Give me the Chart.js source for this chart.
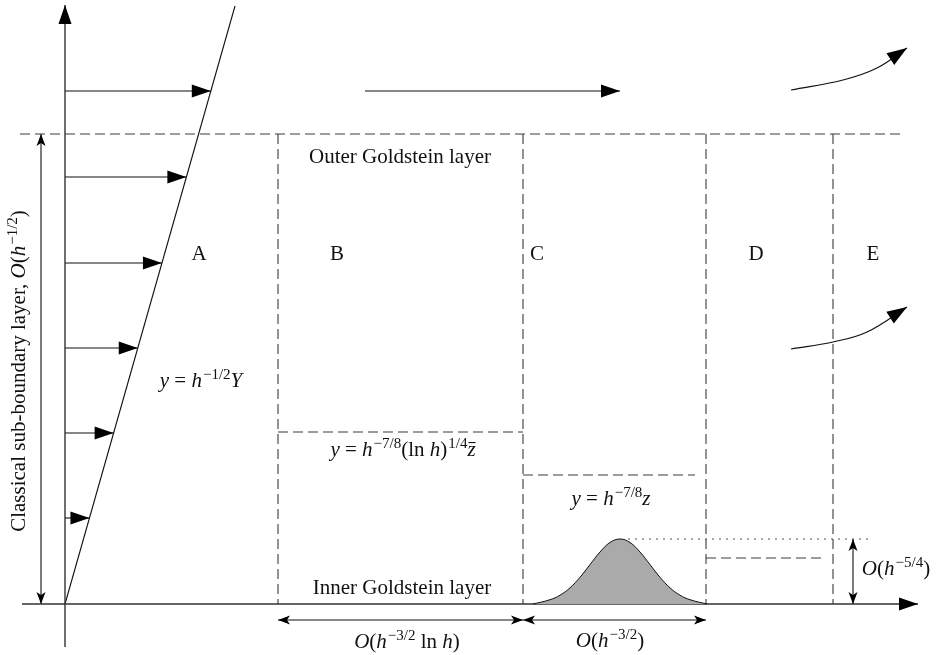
<!DOCTYPE html>
<html><head><meta charset="utf-8">
<script src="https://cdn.jsdelivr.net/npm/chart.js@4.4.0/dist/chart.umd.min.js"></script>
<style>html,body{margin:0;padding:0;background:#fff}#wrap{width:936px;height:655px}</style>
</head><body><div id="wrap"><canvas id="c" width="936" height="655"></canvas></div>
<script>
// Diagram coordinates: x along the wall (to the right), y normal to the wall (up).
const xRange = [-65, 871];
const yRange = [-51, 604];

const wallAxis = [[0, -43], [0, 599]];
const streamAxis = [[-43, 0], [853, 0]];
const shearLine = [[0, 0], [170, 598]];
const profileHeights = [513, 427, 341, 256, 171, 86];
const outerEdgeY = 470;
const outerEdgeX = [-45, 840];
const regionBounds = [213, 458, 641, 768];
const innerB = [[213, 172], [458, 172]];
const innerC = [[458, 129], [630, 129]];
const innerD = [[641, 46], [760, 46]];
const humpTopLine = [[563, 65], [803, 65]];
const humpX = [468, 485, 495, 505, 515, 525, 535, 545, 555, 565, 575, 585, 595, 605, 615, 625, 642];
const humpY = [0, 4.3, 8.8, 16.2, 26.7, 39.4, 52, 61.5, 65, 61.5, 52, 39.4, 26.7, 16.2, 8.8, 4.3, 0];
const freeArrow = [[300, 513], [555, 513]];
const upperCurve = [[726, 514], [778, 524], [812, 536], [842, 556]];
const lowerCurve = [[726, 255], [768, 262], [802, 272], [842, 297]];
const dimLeft = [[-24, 0], [-24, 470]];
const dimBottom1 = [[213, -16], [458, -16]];
const dimBottom2 = [[458, -16], [641, -16]];
const dimHump = [[788, 0], [788, 65]];

// Labels: segments [style, text]; r = roman, i = italic, s = superscript, zb = z with bar
const regionLetters = ['A', 'B', 'C', 'D', 'E'];
const regionLetterX = [134, 272, 472, 691, 808];
const regionLetterY = 344;
const labels = [
  { x: 335, y: 441, seg: [['r', 'Outer Goldstein layer']] },
  { x: 337, y: 10, seg: [['r', 'Inner Goldstein layer']] },
  { x: 136, y: 217, seg: [['i', 'y'], ['r', ' = '], ['i', 'h'], ['s', '\u22121/2'], ['i', 'Y']] },
  { x: 338, y: 148, seg: [['i', 'y'], ['r', ' = '], ['i', 'h'], ['s', '\u22127/8'], ['r', '(ln '], ['i', 'h'], ['r', ')'], ['s', '1/4'], ['zb', 'z']] },
  { x: 546, y: 99, seg: [['i', 'y'], ['r', ' = '], ['i', 'h'], ['s', '\u22127/8'], ['i', 'z']] },
  { x: 831, y: 29, seg: [['i', 'O'], ['r', '('], ['i', 'h'], ['s', '\u22125/4'], ['r', ')']] },
  { x: 342, y: -44, seg: [['i', 'O'], ['r', '('], ['i', 'h'], ['s', '\u22123/2'], ['r', ' ln '], ['i', 'h'], ['r', ')']] },
  { x: 545, y: -43, seg: [['i', 'O'], ['r', '('], ['i', 'h'], ['s', '\u22123/2'], ['r', ')']] },
  { x: -40, y: 233, rot: true, seg: [['r', 'Classical sub-boundary layer, '], ['i', 'O'], ['r', '('], ['i', 'h'], ['s', '\u22121/2'], ['r', ')']] }
];

const pts = a => a.map(p => ({ x: p[0], y: p[1] }));
const BIG = { len: 19, half: 6.5, notch: 0 };
const CURV = { len: 20, half: 7, notch: 0 };
const SMALL = { len: 12, half: 4.5, notch: 3 };
const solid = (data, extra) => Object.assign({ data: pts(data), showLine: true, pointRadius: 0, borderColor: '#111', borderWidth: 1.1, fill: false, tension: 0 }, extra || {});
const dashed = (data) => solid(data, { borderColor: '#3a3a3a', borderDash: [10, 5], borderWidth: 1.1 });

const datasets = [];
// hump (shaded)
datasets.push(solid(humpX.map((x, i) => [x, humpY[i]]), { fill: 'origin', backgroundColor: '#aaaaaa', tension: 0.4, borderWidth: 1 }));
// axes
datasets.push(solid(wallAxis, { borderColor: '#333', borderWidth: 1.4, arrowEnd: BIG }));
datasets.push(solid(streamAxis, { borderColor: '#333', borderWidth: 1.4, arrowEnd: BIG }));
datasets.push(solid(shearLine));
// velocity profile arrows ending on the shear line
const slope = (shearLine[1][0] - shearLine[0][0]) / (shearLine[1][1] - shearLine[0][1]);
profileHeights.forEach(h => datasets.push(solid([[0, h], [slope * h, h]], { arrowEnd: BIG })));
// outer edge and region boundaries
datasets.push(dashed([[outerEdgeX[0], outerEdgeY], [outerEdgeX[1], outerEdgeY]]));
regionBounds.forEach(b => datasets.push(dashed([[b, outerEdgeY], [b, 0]])));
datasets.push(dashed(innerB));
datasets.push(dashed(innerC));
datasets.push(dashed(innerD));
datasets.push(solid(humpTopLine, { borderColor: '#555', borderDash: [2, 5], borderWidth: 1.1 }));
// flow arrows
datasets.push(solid(freeArrow, { arrowEnd: BIG }));
datasets.push(solid(upperCurve, { tension: 0.4, arrowEnd: CURV }));
datasets.push(solid(lowerCurve, { tension: 0.4, arrowEnd: CURV }));
// dimension arrows
[dimLeft, dimBottom1, dimBottom2, dimHump].forEach(d => datasets.push(solid(d, { arrowEnd: SMALL, arrowStart: SMALL, borderWidth: 1.1 })));

function head(ctx, tip, from, spec, color) {
  let dx = tip.x - from.x, dy = tip.y - from.y;
  const L = Math.hypot(dx, dy) || 1; dx /= L; dy /= L;
  const nx = -dy, ny = dx;
  const bx = tip.x - dx * spec.len, by = tip.y - dy * spec.len;
  ctx.beginPath();
  ctx.moveTo(tip.x, tip.y);
  ctx.lineTo(bx + nx * spec.half, by + ny * spec.half);
  ctx.lineTo(bx + dx * spec.notch, by + dy * spec.notch);
  ctx.lineTo(bx - nx * spec.half, by - ny * spec.half);
  ctx.closePath();
  ctx.fillStyle = color; ctx.fill();
}

const arrowPlugin = {
  id: 'arrows',
  afterDatasetsDraw(chart) {
    const ctx = chart.ctx;
    ctx.save();
    chart.data.datasets.forEach((ds, i) => {
      const el = chart.getDatasetMeta(i).data;
      const n = el.length;
      if (ds.arrowEnd) {
        const t = el[n - 1];
        let f = el[n - 2];
        if (t.cp1x !== undefined && Math.hypot(t.cp1x - t.x, t.cp1y - t.y) > 1) f = { x: t.cp1x, y: t.cp1y };
        head(ctx, t, f, ds.arrowEnd, '#000');
      }
      if (ds.arrowStart) head(ctx, el[0], el[1], ds.arrowStart, '#000');
    });
    ctx.restore();
  }
};

const FAM = '"Liberation Serif", "Times New Roman", serif';
const fontOf = s => s === 'i' || s === 'zb' ? 'italic 21px ' + FAM : (s === 's' ? '15px ' + FAM : '21px ' + FAM);
function richWidth(ctx, seg) {
  let w = 0;
  seg.forEach(([s, t]) => { ctx.font = fontOf(s); w += ctx.measureText(t).width + (s === 's' ? 1 : 0); });
  return w;
}
function richDraw(ctx, seg, x0, y0) {
  let x = x0;
  seg.forEach(([s, t]) => {
    ctx.font = fontOf(s);
    const w = ctx.measureText(t).width;
    const y = s === 's' ? y0 - 8 : y0;
    ctx.fillText(t, x + (s === 's' ? 1 : 0), y);
    if (s === 'zb') { ctx.fillRect(x + 1, y0 - 14, w - 1, 1.1); }
    x += w + (s === 's' ? 1 : 0);
  });
}
const labelPlugin = {
  id: 'labels',
  afterDraw(chart) {
    const ctx = chart.ctx, sx = chart.scales.x, sy = chart.scales.y;
    ctx.save();
    ctx.fillStyle = '#111';
    ctx.textBaseline = 'alphabetic';
    ctx.textAlign = 'left';
    regionLetters.forEach((L, i) => {
      ctx.font = '21px ' + FAM;
      const w = ctx.measureText(L).width;
      ctx.fillText(L, sx.getPixelForValue(regionLetterX[i]) - w / 2, sy.getPixelForValue(regionLetterY));
    });
    labels.forEach(l => {
      const w = richWidth(ctx, l.seg);
      const px = sx.getPixelForValue(l.x), py = sy.getPixelForValue(l.y);
      if (l.rot) {
        ctx.save(); ctx.translate(px, py); ctx.rotate(-Math.PI / 2);
        richDraw(ctx, l.seg, -w / 2, 0);
        ctx.restore();
      } else richDraw(ctx, l.seg, px - w / 2, py);
    });
    ctx.restore();
  }
};

new Chart(document.getElementById('c'), {
  type: 'scatter',
  data: { datasets },
  options: {
    responsive: false, animation: false, events: [],
    layout: { padding: 0 },
    scales: {
      x: { type: 'linear', min: xRange[0], max: xRange[1], display: false },
      y: { type: 'linear', min: yRange[0], max: yRange[1], display: false }
    },
    plugins: { legend: { display: false }, tooltip: { enabled: false } }
  },
  plugins: [arrowPlugin, labelPlugin]
});
</script></body></html>
